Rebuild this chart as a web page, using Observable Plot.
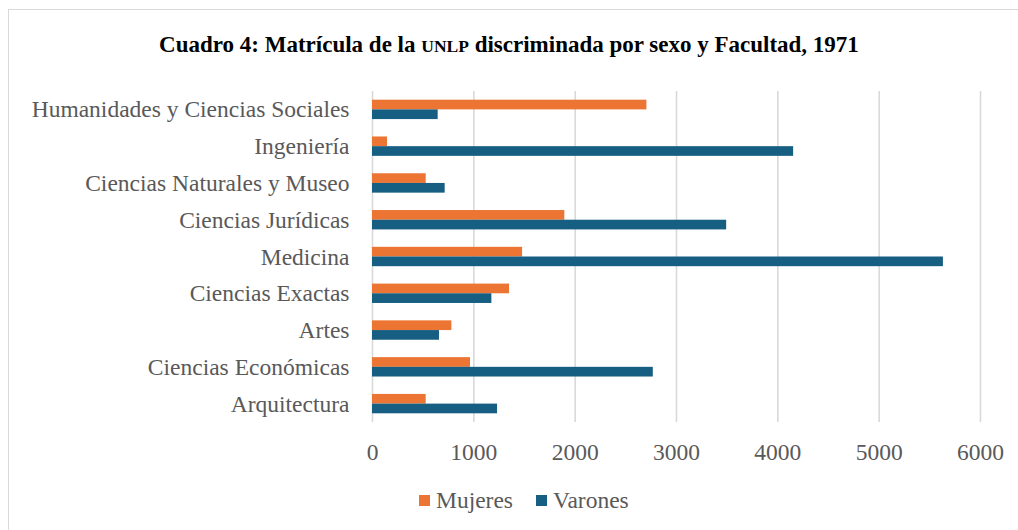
<!DOCTYPE html>
<html>
<head>
<meta charset="utf-8">
<script src="https://cdn.jsdelivr.net/npm/d3@7"></script>
<script src="https://cdn.jsdelivr.net/npm/@observablehq/plot@0.6"></script>
<style>
  html, body { margin: 0; padding: 0; background: #fff; }
  #wrap, #wrap * { font-family: "Liberation Serif", "Times New Roman", Times, serif; }
  #wrap { position: relative; width: 1018px; height: 530px; overflow: hidden; }
  #frame { position: absolute; left: 8px; top: 9px; width: 1040px; height: 560px; border: 1.5px solid #d9d9d9; box-sizing: border-box; }
  #title { position: absolute; left: 0; width: 1018px; top: 30px; text-align: center; font-weight: bold; font-size: 23px; color: #000; line-height: 30px; }
  #title .sc { font-size: 17.5px; }
  #chart { position: absolute; left: 0; top: 70px; }
  #legend { position: absolute; left: 0; top: 480px; }
</style>
</head>
<body>
<div id="wrap">
  <div id="frame"></div>
  <div id="title">Cuadro 4: Matrícula de la <span class="sc">UNLP</span> discriminada por sexo y Facultad, 1971</div>
  <div id="chart"></div>
  <div id="legend"></div>
</div>
<script>
const categories = [
  "Humanidades y Ciencias Sociales",
  "Ingeniería",
  "Ciencias Naturales y Museo",
  "Ciencias Jurídicas",
  "Medicina",
  "Ciencias Exactas",
  "Artes",
  "Ciencias Económicas",
  "Arquitectura"
];
const mujeres = [2708, 148, 530, 1898, 1481, 1352, 783, 967, 530];
const varones = [648, 4156, 717, 3495, 5634, 1178, 661, 2771, 1234];
const xTicks = [0, 1000, 2000, 3000, 4000, 5000, 6000];
const seriesNames = ["Mujeres", "Varones"];
const seriesColors = ["#ec7533", "#175f82"];

const dataM = categories.map((c, i) => ({cat: c, value: mujeres[i]}));
const dataV = categories.map((c, i) => ({cat: c, value: varones[i]}));

const H = 400, mTop = 21, mBottom = 48;
const inner = H - mTop - mBottom;
const pIn = 0.473, pOut = pIn / 2;
const step = inner / (categories.length - pIn + 2 * pOut);
const band = step * (1 - pIn);
const half = band / 2;

const FONT = "'Liberation Serif', 'Times New Roman', Times, serif";

const plot = Plot.plot({
  width: 1018,
  height: H,
  marginLeft: 372,
  marginRight: 38,
  marginTop: mTop,
  marginBottom: mBottom,
  style: { fontFamily: FONT, fontSize: "23.5px", color: "#595959", background: "transparent" },
  x: { domain: [0, 6000], ticks: xTicks, tickFormat: d => String(d), label: null },
  y: { domain: categories, paddingInner: pIn, paddingOuter: pOut, round: false, label: null },
  marks: [
    Plot.gridX(xTicks, { stroke: "#d9d9d9", strokeOpacity: 1, strokeWidth: 1.6 }),
    Plot.barX(dataM, { x: "value", y: "cat", fill: seriesColors[0], insetBottom: half, insetTop: 0 }),
    Plot.barX(dataV, { x: "value", y: "cat", fill: seriesColors[1], insetTop: half, insetBottom: 0 }),
    Plot.axisX(xTicks, { tickSize: 0, tickPadding: 21, fontSize: 23.5, fill: "#595959", tickFormat: d => String(d), label: null }),
    Plot.axisY({ tickSize: 0, tickPadding: 23, fontSize: 23.5, fill: "#595959", label: null })
  ]
});
document.getElementById("chart").appendChild(plot);

// Legend as SVG
const lsvg = d3.select("#legend").append("svg")
  .attr("width", 1018).attr("height", 45)
  .style("font-family", FONT).style("font-size", "23.5px");
let x = 419;
seriesNames.forEach((name, i) => {
  lsvg.append("rect").attr("x", x).attr("y", 15).attr("width", 11).attr("height", 11).attr("fill", seriesColors[i]);
  const t = lsvg.append("text").attr("x", x + 17).attr("y", 28).attr("fill", "#595959").text(name);
  const w = t.node().getComputedTextLength();
  x = x + 17 + w + 23;
});
</script>
</body>
</html>
